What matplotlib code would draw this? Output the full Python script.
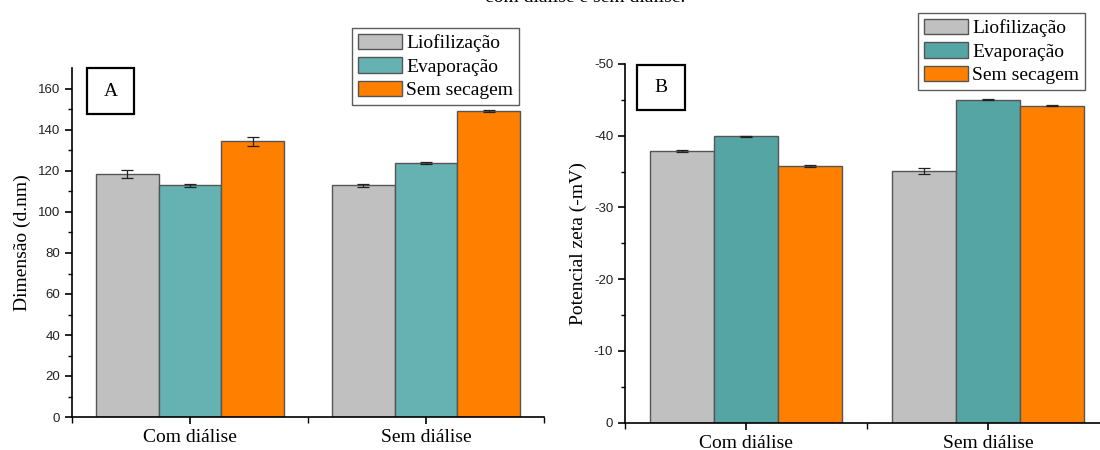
import matplotlib
matplotlib.use("Agg")
import matplotlib.pyplot as plt
from matplotlib.patches import Rectangle
import numpy as np

plt.rcParams['axes.unicode_minus'] = False

categories = ['Com diálise', 'Sem diálise']
series = ['Liofilização', 'Evaporação', 'Sem secagem']

# Panel A: Dimensão (d.nm)
size_liof = [118.5, 113.0]
size_evap = [113.0, 124.0]
size_sem = [134.5, 149.3]
size_liof_err = [1.9, 0.8]
size_evap_err = [0.6, 0.4]
size_sem_err = [2.3, 0.6]

# Panel B: Potencial zeta (-mV)
zeta_liof = [-37.9, -35.1]
zeta_evap = [-39.9, -45.05]
zeta_sem = [-35.8, -44.2]
zeta_liof_err = [0.15, 0.4]
zeta_evap_err = [0.1, 0.1]
zeta_sem_err = [0.1, 0.1]

colors_a = ['#C0C0C0', '#66B2B2', '#FF8000']
colors_b = ['#C0C0C0', '#55A5A5', '#FF8000']
edge = '#555555'

serif = ['Liberation Serif', 'DejaVu Serif']
sans = ['Liberation Sans', 'DejaVu Sans']

fig = plt.figure(figsize=(11, 4.5), dpi=100)
W, H = 1100, 450

def ax_at(l, r, b, t):
    return fig.add_axes([l / W, 1 - b / H, (r - l) / W, (b - t) / H])

axA = ax_at(72, 544, 417, 68.5)
axB = ax_at(625, 1109, 422.7, 64)

x = np.arange(1, len(categories) + 1)
bw = 0.265
offsets = [-bw, 0, bw]

def draw(ax, vals, errs, colors):
    for i, (v, e, c, name) in enumerate(zip(vals, errs, colors, series)):
        ax.bar(x + offsets[i], v, bw, color=c, edgecolor=edge, linewidth=1.0,
               label=name, zorder=2)
        ax.errorbar(x + offsets[i], v, yerr=e, fmt='none', ecolor='#222222',
                    elinewidth=0.9, capsize=4, capthick=0.9, zorder=3)
    ax.set_xlim(0.5, 2.5)
    ax.set_xticks(x)
    ax.set_xticks([0.5, 1.5, 2.5], minor=True)
    ax.set_xticklabels(categories, fontsize=14, family=serif)
    for s in ['top', 'right']:
        ax.spines[s].set_visible(False)
    for s in ['left', 'bottom']:
        ax.spines[s].set_linewidth(1.2)
    ax.tick_params(which='major', direction='out', length=5, width=1.2)
    ax.tick_params(which='minor', direction='out', length=3, width=1.0)
    ax.tick_params(axis='x', which='minor', length=4)

def style_yticks(ax):
    for lab in ax.get_yticklabels():
        lab.set_family(sans)
        lab.set_fontsize(9.5)
        lab.set_color('#222222')

draw(axA, [size_liof, size_evap, size_sem],
     [size_liof_err, size_evap_err, size_sem_err], colors_a)
axA.set_ylim(0, 170)
axA.set_yticks(np.arange(0, 161, 20))
axA.set_yticks(np.arange(10, 170, 20), minor=True)
style_yticks(axA)
axA.set_ylabel('Dimensão (d.nm)', fontsize=14, family=serif, labelpad=5)

draw(axB, [zeta_liof, zeta_evap, zeta_sem],
     [zeta_liof_err, zeta_evap_err, zeta_sem_err], colors_b)
axB.set_ylim(0, -50)
axB.set_yticks(np.arange(0, -51, -10))
axB.set_yticks(np.arange(-5, -50, -10), minor=True)
style_yticks(axB)
axB.set_ylabel('Potencial zeta (-mV)', fontsize=14, family=serif, labelpad=5)

leg_kw = dict(loc='upper left', bbox_transform=fig.transFigure, frameon=True,
              fancybox=False, prop={'family': serif, 'size': 14},
              handlelength=2.25, handleheight=0.85, handletextpad=0.25,
              labelspacing=0.25, borderpad=0.3, borderaxespad=0)
lgA = axA.legend(bbox_to_anchor=(352 / W, 1 - 28 / H), **leg_kw)
lgB = axB.legend(bbox_to_anchor=(918 / W, 1 - 13 / H), **leg_kw)
for lg in (lgA, lgB):
    lg.get_frame().set_edgecolor('#333333')
    lg.get_frame().set_linewidth(1.0)

def label_box(l, r, t, b, txt):
    fig.patches.append(Rectangle((l / W, 1 - b / H), (r - l) / W, (b - t) / H,
                                 transform=fig.transFigure, fill=False,
                                 edgecolor='black', linewidth=1.6))
    fig.text((l + r) / 2 / W, 1 - (t + b) / 2 / H, txt, ha='center', va='center',
             fontsize=14, family=serif)

label_box(87, 134, 68, 114, 'A')
label_box(637, 685, 65, 110, 'B')

# Caption line cut off at the top edge in the reference
fig.text(585 / W, 1 - 2 / H, 'com diálise e sem diálise.', ha='center',
         va='baseline', fontsize=14, family=serif)

fig.savefig('out.png', dpi=100)
